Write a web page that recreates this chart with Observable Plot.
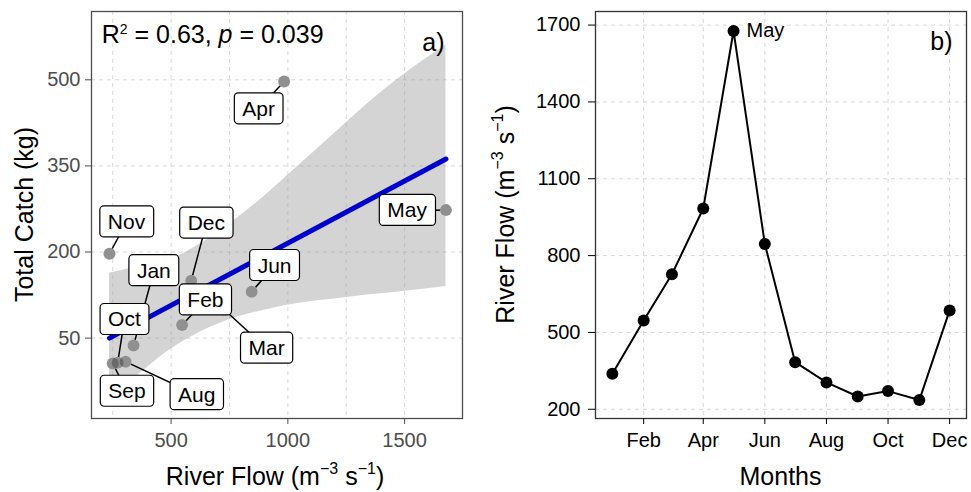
<!DOCTYPE html>
<html>
<head>
<meta charset="utf-8">
<script src="https://cdn.jsdelivr.net/npm/d3@7"></script>
<script src="https://cdn.jsdelivr.net/npm/@observablehq/plot@0.6"></script>
<style>
  body { margin: 0; background: #fff; font-family: "Liberation Sans", Arial, sans-serif; }
  #wrap { display: flex; width: 971px; height: 492px; }
  #wrap svg { display: block; }
</style>
</head>
<body>
<div id="wrap"></div>
<script>
// ---------- data ----------
const months = ["Jan","Feb","Mar","Apr","May","Jun","Jul","Aug","Sep","Oct","Nov","Dec"];
const riverFlow = [339, 547, 727, 984, 1677, 845, 384, 305, 250, 271, 236, 586];
const totalCatch = [37, 73, 100, 497, 273, 131, null, 9, 6, 7, 197, 150];
// repelled label anchor positions (data units)
const labelFlow  = [426, 647, 909, 875, 1511, 943, null, 610, 311, 300, 309, 651];
const labelCatch = [167, 116, 32, 449, 272, 176, null, -49, -43, 82, 252, 250];
// fitted line and its confidence band
const fitFlow = [236, 1677];
const fitCatch = [50, 362];
const bandFlow = [236, 386, 486, 628, 770, 913, 1056, 1198, 1340, 1483, 1677];
const bandLow  = [-55, -5, 27, 61, 85, 100, 111, 118, 125, 131, 140];
const bandHigh = [163, 177, 186, 215, 255, 302, 354, 406, 458, 505, 560];
// ticks
const flowTicks = [500, 1000, 1500];
const flowGrid = [250, 500, 750, 1000, 1250, 1500];
const catchTicks = [50, 200, 350, 500];
const flowAxisTicks = [200, 500, 800, 1100, 1400, 1700];
const monthTicks = ["Feb", "Apr", "Jun", "Aug", "Oct", "Dec"];
const statText = { r2: "0.63", p: "0.039" };

// ---------- tables ----------
const year = 2021;
const monthDate = m => new Date(Date.UTC(year, months.indexOf(m), 1));
const rows = months.map((m, i) => ({
  month: m, date: monthDate(m), flow: riverFlow[i], catch: totalCatch[i],
  lx: labelFlow[i], ly: labelCatch[i]
}));
const scatterRows = rows.filter(d => d.catch != null);
const band = bandFlow.map((f, i) => ({ flow: f, lo: bandLow[i], hi: bandHigh[i] }));
const fit = fitFlow.map((f, i) => ({ flow: f, c: fitCatch[i] }));
const monthTickDates = monthTicks.map(monthDate);

const FONT = "'Liberation Sans', Arial, Helvetica, sans-serif";
const gridStyle = { stroke: "#d9d9d9", strokeDasharray: "4,4", strokeOpacity: 1, strokeWidth: 1 };
const plain = d3.format("d");
const wrap = document.getElementById("wrap");

// ---------- panel a ----------
const left = Plot.plot({
  width: 480, height: 492,
  marginLeft: 91, marginRight: 18, marginTop: 11, marginBottom: 74,
  style: { fontFamily: FONT, background: "white", overflow: "visible" },
  x: { domain: [159, 1748], label: null },
  y: { domain: [-90, 619], label: null },
  marks: [
    Plot.ruleX(flowGrid, gridStyle),
    Plot.ruleY(catchTicks, gridStyle),
    Plot.areaY(band, { x: "flow", y1: "lo", y2: "hi", fill: "#999999", fillOpacity: 0.42, curve: "monotone-x" }),
    Plot.line(fit, { x: "flow", y: "c", stroke: "#0000CD", strokeWidth: 5 }),
    Plot.link(scatterRows, { x1: "flow", y1: "catch", x2: "lx", y2: "ly", stroke: "black", strokeWidth: 1.5 }),
    Plot.dot(scatterRows, { x: "flow", y: "catch", r: 6, fill: "white", stroke: null }),
    Plot.dot(scatterRows, { x: "flow", y: "catch", r: 6, fill: "#555", fillOpacity: 0.65, stroke: null }),
    Plot.text(scatterRows, { x: "lx", y: "ly", text: "month", fontSize: 21, fill: "black" }),
    Plot.text(["a)"], { frameAnchor: "top-right", dx: -18, dy: 22, fontSize: 25, fill: "black", textAnchor: "end" }),
    Plot.frame({ stroke: "#4d4d4d", strokeWidth: 1.3 }),
    Plot.axisX(flowTicks, { tickFormat: plain, tickSize: 6, tickPadding: 8, fontSize: 20, color: "#4d4d4d", label: null }),
    Plot.axisY(catchTicks, { tickFormat: plain, tickSize: 6, tickPadding: 5, fontSize: 20, color: "#4d4d4d", label: null })
  ]
});
wrap.appendChild(left);

// ---------- panel b ----------
const t0 = monthDate("Jan").getTime(), t1 = monthDate("Dec").getTime();
const padT = (t1 - t0) * 0.05;
const right = Plot.plot({
  width: 491, height: 492,
  marginLeft: 115, marginRight: 5, marginTop: 11, marginBottom: 74,
  style: { fontFamily: FONT, background: "white", overflow: "visible" },
  x: { type: "utc", domain: [new Date(t0 - padT), new Date(t1 + padT)], label: null },
  y: { domain: [164, 1753], label: null },
  marks: [
    Plot.ruleX(monthTickDates, gridStyle),
    Plot.ruleY(flowAxisTicks, gridStyle),
    Plot.line(rows, { x: "date", y: "flow", stroke: "black", strokeWidth: 2 }),
    Plot.dot(rows, { x: "date", y: "flow", r: 6, fill: "black", stroke: null }),
    Plot.text(rows.filter(d => d.month === "May"), { x: "date", y: "flow", text: "month", dx: 13, textAnchor: "start", fontSize: 20, fill: "black" }),
    Plot.text(["b)"], { frameAnchor: "top-right", dx: -14, dy: 21, fontSize: 25, fill: "black", textAnchor: "end" }),
    Plot.frame({ stroke: "#333", strokeWidth: 1.3 }),
    Plot.axisX(monthTickDates, { tickFormat: d3.utcFormat("%b"), tickSize: 6, tickPadding: 8, fontSize: 20, color: "black", label: null }),
    Plot.axisY(flowAxisTicks, { tickFormat: plain, tickSize: 7, tickPadding: 8, fontSize: 20, color: "black", label: null })
  ]
});
wrap.appendChild(right);

// ---------- label boxes (ggrepel-style) ----------
{
  const groups = Array.from(left.querySelectorAll('g[aria-label="text"]'));
  const g = groups.find(gg => gg.querySelectorAll("text").length === scatterRows.length);
  if (g) {
    const texts = Array.from(g.querySelectorAll("text"));
    const ns = "http://www.w3.org/2000/svg";
    for (const t of texts) {
      const bb = t.getBBox();
      const r = document.createElementNS(ns, "rect");
      r.setAttribute("x", bb.x - 8);
      r.setAttribute("y", bb.y - 4);
      r.setAttribute("width", bb.width + 16);
      r.setAttribute("height", bb.height + 8);
      r.setAttribute("rx", 4);
      r.setAttribute("fill", "white");
      r.setAttribute("stroke", "black");
      r.setAttribute("stroke-width", 1.2);
      const tr = t.getAttribute("transform");
      if (tr) r.setAttribute("transform", tr);
      g.insertBefore(r, t);
    }
  }
}

// ---------- titles with superscripts ----------
function title(svg, x, y, rotate, parts, size) {
  const t = d3.select(svg).append("text")
    .attr("transform", `translate(${x},${y})` + (rotate ? " rotate(-90)" : ""))
    .attr("text-anchor", "middle")
    .attr("font-family", FONT)
    .attr("font-size", size)
    .attr("fill", "black");
  for (const p of parts) {
    const s = t.append("tspan").text(p.text);
    if (p.dy) s.attr("dy", p.dy);
    if (p.size) s.attr("font-size", p.size);
    if (p.italic) s.attr("font-style", "italic");
  }
  return t;
}
const flowTitle = [
  { text: "River Flow (m" },
  { text: "\u22123", dy: -11, size: 16 },
  { text: " s", dy: 11 },
  { text: "\u22121", dy: -11, size: 16 },
  { text: ")", dy: 11 }
];
title(left, 275, 485, false, flowTitle, 25);
title(left, 33, 214.5, true, [{ text: "Total Catch (kg)" }], 25);
title(right, 300.5, 485, false, [{ text: "Months" }], 25);
title(right, 34, 214.5, true, flowTitle, 25);

// stat annotation
{
  const t = d3.select(left).append("text")
    .attr("x", 101.7).attr("y", 43.3)
    .attr("text-anchor", "start")
    .attr("font-family", FONT).attr("font-size", 25).attr("fill", "black");
  t.append("tspan").text("R");
  t.append("tspan").attr("dy", -9).attr("font-size", 14).text("2");
  t.append("tspan").attr("dy", 9).text(" = " + statText.r2 + ", ");
  t.append("tspan").attr("font-style", "italic").text("p");
  t.append("tspan").text(" = " + statText.p);
}
</script>
</body>
</html>
